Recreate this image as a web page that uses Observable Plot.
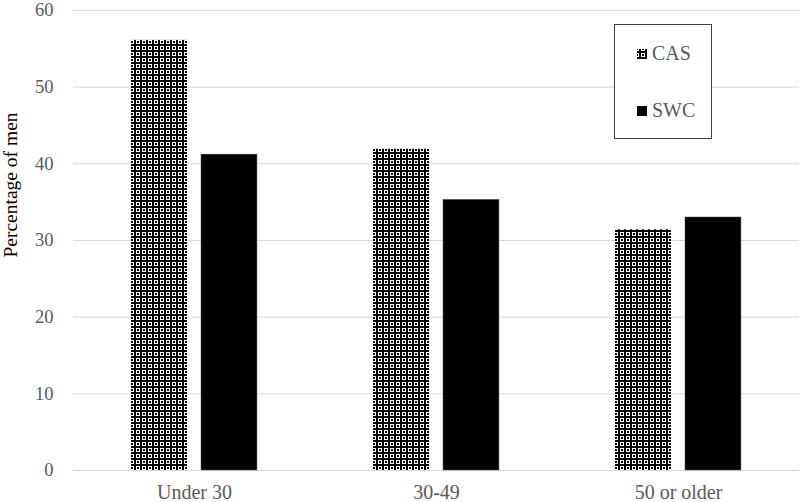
<!DOCTYPE html>
<html>
<head>
<meta charset="utf-8">
<script src="https://cdn.jsdelivr.net/npm/d3@7"></script>
<script src="https://cdn.jsdelivr.net/npm/@observablehq/plot@0.6"></script>
<style>
  html, body { margin: 0; padding: 0; background: #fff; }
  #wrap { position: relative; width: 800px; height: 502px; font-family: "Liberation Serif", "Times New Roman", serif; }
  #legend { position: absolute; left: 614px; top: 24px; width: 98px; height: 115px; border: 1px solid #404040; box-sizing: border-box; background: #fff; }
  .item { position: absolute; left: 22px; display: flex; align-items: center; font-size: 20px; color: #595959; }
  .item svg { margin-right: 5px; }
</style>
</head>
<body>
<svg width="0" height="0" style="position:absolute">
  <defs>
    <pattern id="cas" width="6" height="6" patternUnits="userSpaceOnUse">
      <rect width="6" height="6" fill="#000"/>
      <rect x="1" y="1" width="1" height="1" fill="#fff"/>
      <rect x="4" y="1" width="1" height="1" fill="#fff"/>
      <rect x="1" y="4" width="1" height="1" fill="#fff"/>
      <rect x="4" y="4" width="1" height="1" fill="#fff"/>
      <rect x="0" y="1" width="1" height="1" fill="#fff"/>
      <rect x="1" y="0" width="1" height="1" fill="#fff"/>
      <rect x="4" y="0" width="1" height="1" fill="#fff"/>
      <rect x="5" y="1" width="1" height="1" fill="#fff"/>
      <rect x="0" y="4" width="1" height="1" fill="#fff"/>
      <rect x="1" y="5" width="1" height="1" fill="#fff"/>
      <rect x="4" y="5" width="1" height="1" fill="#fff"/>
      <rect x="5" y="4" width="1" height="1" fill="#fff"/>
    </pattern>
  </defs>
</svg>
<div id="wrap">
  <div id="chart"></div>
  <div id="legend">
    <div class="item" style="top:17px"><svg width="10" height="10"><rect width="10" height="10" fill="url(#cas)"/></svg>CAS</div>
    <div class="item" style="top:74px"><svg width="10" height="10"><rect width="10" height="10" fill="#000"/></svg>SWC</div>
  </div>
</div>
<script>
const categories = ["Under 30", "30-49", "50 or older"];
const series = ["CAS", "SWC"];
const casValues = [56.1, 41.9, 31.4];
const swcValues = [41.2, 35.3, 33.0];
const yTicks = [0, 10, 20, 30, 40, 50, 60];

const data = [];
categories.forEach((c, i) => {
  data.push({cat: c, series: "CAS", value: casValues[i]});
  data.push({cat: c, series: "SWC", value: swcValues[i]});
});

const chart = Plot.plot({
  width: 800,
  height: 502,
  marginLeft: 73,
  marginRight: 1,
  marginTop: 10,
  marginBottom: 32,
  style: {fontFamily: "'Liberation Serif', 'Times New Roman', serif", fontSize: "18.5px", color: "#595959", background: "#fff"},
  fx: {domain: categories, padding: 0, label: null, tickSize: 0, tickPadding: 14},
  x: {domain: series, paddingInner: 0.2, paddingOuter: 0.83, axis: null, round: false},
  y: {domain: [0, 60], ticks: yTicks, tickSize: 0, tickPadding: 20, label: null},
  marks: [
    Plot.gridY(yTicks, {stroke: "#d9d9d9", strokeOpacity: 1}),
    Plot.barY(data.filter(d => d.series === "CAS"), {fx: "cat", x: "series", y: "value", fill: "url(#cas)"}),
    Plot.barY(data.filter(d => d.series === "SWC"), {fx: "cat", x: "series", y: "value", fill: "#000", stroke: "#555", strokeWidth: 0.5})
  ]
});
document.getElementById("chart").appendChild(chart);

d3.select(chart).selectAll("g[aria-label='fx-axis tick label'] text, g[aria-label='fx-axis tick label']")
  .style("font-size", "20px");

d3.select(chart).append("text")
  .attr("transform", "translate(17,185) rotate(-90)")
  .attr("text-anchor", "middle")
  .attr("fill", "#000")
  .style("font-size", "19.5px")
  .text("Percentage of men");
</script>
</body>
</html>
